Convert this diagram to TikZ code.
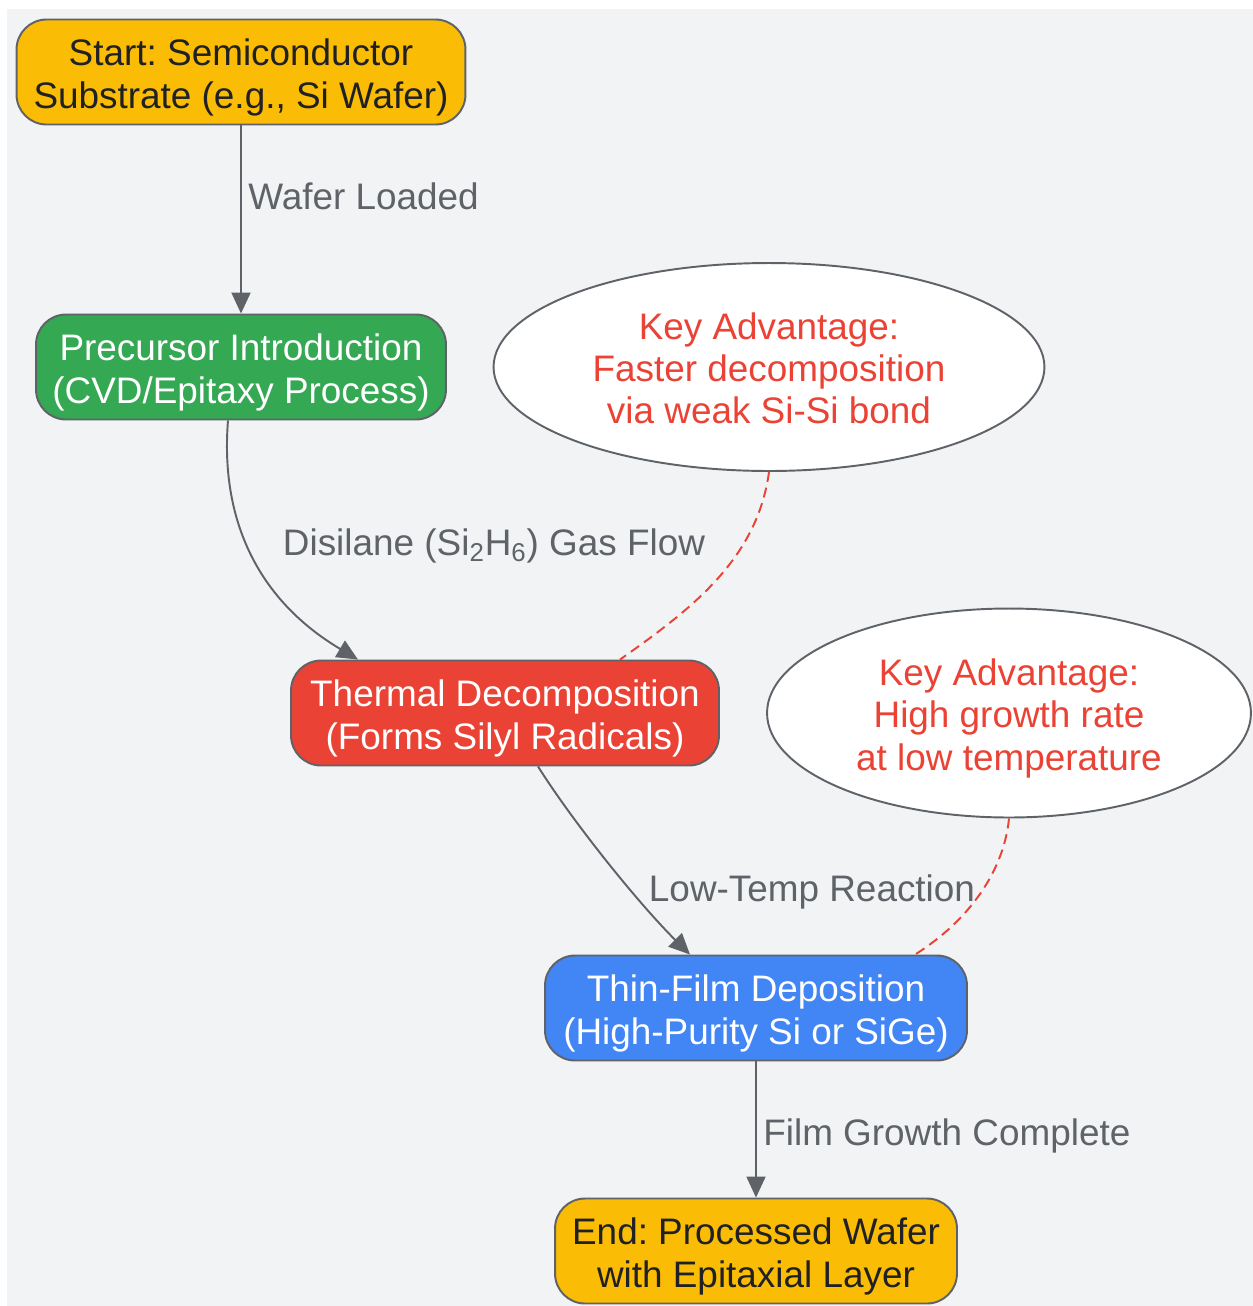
\documentclass[tikz,border=0pt]{standalone}
\usepackage{fontspec}
\setmainfont{Liberation Sans}
\usepackage{tikz}
\usetikzlibrary{calc,positioning,shapes.geometric,arrows.meta}

\definecolor{bggray}{RGB}{241,243,245}
\definecolor{linegray}{RGB}{95,99,104}
\definecolor{darktext}{RGB}{32,33,36}
\definecolor{gyellow}{RGB}{251,188,5}
\definecolor{ggreen}{RGB}{52,168,83}
\definecolor{gred}{RGB}{234,67,53}
\definecolor{gblue}{RGB}{66,133,244}

\begin{document}
\frenchspacing
\begin{tikzpicture}[x=0.02cm,y=-0.02cm,
    every node/.style={font=\fontsize{21}{24}\selectfont},
    stepbox/.style={draw=linegray,line width=1.1pt,rounded corners=0.6cm,minimum height=2.1cm,align=center,inner sep=0pt,
        execute at begin node={\rule[-0.24cm]{0pt}{1.92cm}}},
    notebox/.style={ellipse,draw=linegray,fill=white,line width=1.1pt,align=center,inner sep=0pt,text=gred,
        execute at begin node={\rule[-0.24cm]{0pt}{2.76cm}}},
    flow/.style={draw=linegray,line width=1.1pt,arrows={-Triangle[length=0.42cm,width=0.38cm]}},
    hint/.style={draw=gred,line width=1.1pt,dash pattern=on 0.2cm off 0.12cm},
    lbl/.style={text=linegray,inner sep=0pt}]
        \useasboundingbox (0,0) rectangle (1253,1306);
        \fill[bggray] (7,9) rectangle (1253,1306);
        % main steps
        \node[stepbox,fill=gyellow,text=darktext,minimum width=8.98cm] (start) at (241,72) {Start: Semiconductor\\Substrate (e.g., Si Wafer)};
        \node[stepbox,fill=ggreen,text=white,minimum width=8.2cm] (pre) at (241,367) {Precursor Introduction\\(CVD/Epitaxy Process)};
        \node[stepbox,fill=gred,text=white,minimum width=8.56cm] (thermal) at (505,713) {Thermal Decomposition\\(Forms Silyl Radicals)};
        \node[stepbox,fill=gblue,text=white,minimum width=8.44cm] (thin) at (756,1008) {Thin-Film Deposition\\(High-Purity Si or SiGe)};
        \node[stepbox,fill=gyellow,text=darktext,minimum width=8.04cm] (end) at (756,1251) {End: Processed Wafer\\with Epitaxial Layer};
        % notes
        \node[notebox,minimum width=11.02cm,minimum height=4.16cm] (adv1) at (769,367) {Key Advantage:\\Faster decomposition\\via weak Si-Si bond};
        \node[notebox,minimum width=9.68cm,minimum height=4.18cm] (adv2) at (1009,713) {Key Advantage:\\High growth rate\\at low temperature};
        % arrows
        \draw[flow] (start.south) -- (pre.north);
        \draw[flow] ($(pre.south)+(-13,0)$) .. controls (220,520) and (258,600) .. ($(thermal.north)+(-147,0)$);
        \draw[flow] ($(thermal.south)+(33,0)$) .. controls (575,825) and (640,905) .. ($(thin.north)+(-66,0)$);
        \draw[flow] (thin.south) -- (end.north);
        \draw[hint] (adv1.south) .. controls (757,560) and (690,610) .. ($(thermal.north)+(115,0)$);
        \draw[hint] (adv2.south) .. controls (1004,870) and (970,920) .. ($(thin.north)+(159,0)$);
        % edge labels
        \node[lbl,anchor=west] (lblload) at (248,196) {Wafer Loaded};
        \node[lbl] (lblgas) at (494,546) {Disilane (Si\textsubscript{2}H\textsubscript{6}) Gas Flow};
        \node[lbl] (lbltemp) at (812,892) {Low-Temp Reaction};
        \node[lbl,anchor=west] (lblfilm) at (763,1136) {Film Growth Complete};
\end{tikzpicture}
\end{document}
